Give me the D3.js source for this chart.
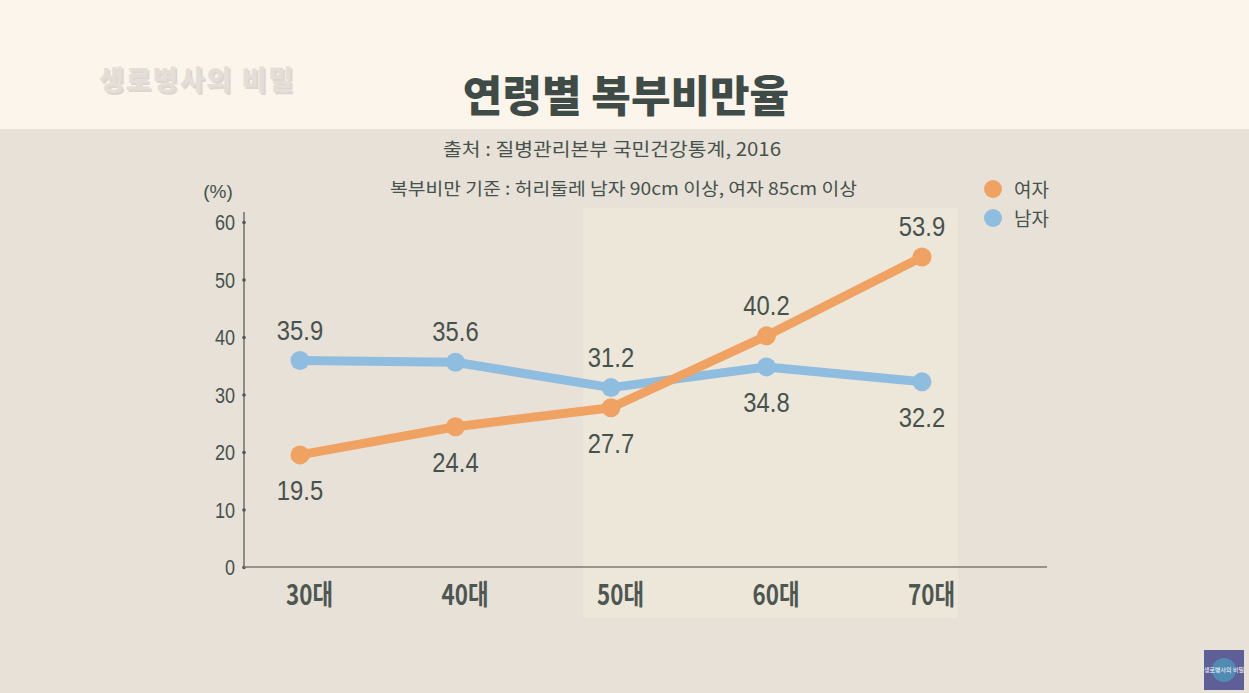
<!DOCTYPE html>
<html><head><meta charset="utf-8">
<script src="https://cdn.jsdelivr.net/npm/d3@7/dist/d3.min.js"></script>
<style>
html,body{margin:0;padding:0;background:#e7e1d8;}
svg{display:block;}
</style></head>
<body>
<svg id="c" width="1249" height="693"></svg>
<script>
const categories = ["30대","40대","50대","60대","70대"];
const women = [19.5, 24.4, 27.7, 40.2, 53.9];
const men = [35.9, 35.6, 31.2, 34.8, 32.2];
const yTicks = [0,10,20,30,40,50,60];
const seriesNames = ["여자","남자"];

const W=1249,H=693;
const svg=d3.select("#c");
const ink="#46524d";
const orange="#f0a262", blue="#8fbde0";
const numFont="'Liberation Sans',Arial,sans-serif";
const krFont="'Noto Sans CJK KR','Noto Sans',sans-serif";

svg.append("rect").attr("width",W).attr("height",H).attr("fill","#e7e1d8");
svg.append("rect").attr("width",W).attr("height",129).attr("fill","#fbf5ec");

// logo top-left
svg.append("text").attr("x",101).attr("y",92).attr("font-family",krFont).attr("font-weight",900)
 .attr("font-size",27).attr("fill","#c9c3bb").attr("opacity",0.6).attr("letter-spacing",2).text("생로병사의 비밀");
svg.append("text").attr("x",99).attr("y",90).attr("font-family",krFont).attr("font-weight",900)
 .attr("font-size",27).attr("fill","#e4ded6").attr("letter-spacing",2).text("생로병사의 비밀");

const x=d3.scalePoint().domain(categories).range([300,922]);
const y=d3.scaleLinear().domain([0,60]).range([567,222]);

// highlight region
svg.append("rect").attr("x",583).attr("y",208).attr("width",375).attr("height",410).attr("fill","#ede7da");

// title
svg.append("text").attr("x",626).attr("y",112).attr("text-anchor","middle").attr("font-family",krFont)
 .attr("font-weight",900).attr("font-size",43).attr("fill","#3f4b47").text("연령별 복부비만율");
svg.append("text").attr("x",443).attr("y",156).attr("font-family",krFont)
 .attr("font-size",18.5).attr("fill",ink).attr("textLength",338).attr("lengthAdjust","spacingAndGlyphs")
 .text("출처 : 질병관리본부 국민건강통계, 2016");
svg.append("text").attr("x",390).attr("y",195).attr("font-family",krFont)
 .attr("font-size",17.5).attr("fill",ink).attr("textLength",467).attr("lengthAdjust","spacingAndGlyphs")
 .text("복부비만 기준 : 허리둘레 남자 90cm 이상, 여자 85cm 이상");

// legend
[orange,blue].forEach((c,i)=>{
  svg.append("circle").attr("cx",993).attr("cy",189+i*29).attr("r",9).attr("fill",c);
  svg.append("text").attr("x",1014).attr("y",197+i*29).attr("font-family",krFont).attr("font-size",19)
   .attr("fill",ink).text(seriesNames[i]);
});

// y axis
const yAxis=d3.axisLeft(y).tickValues(yTicks).tickSize(0).tickPadding(11);
const ga=svg.append("g").attr("transform","translate(244,0)").call(yAxis);
ga.select(".domain").attr("d","M0,212V567").attr("stroke","#6e716a").attr("stroke-width",1.5);
ga.selectAll("text").attr("font-family",numFont).attr("font-size",22).attr("fill",ink).attr("dy","0.35em")
 .attr("transform","scale(0.82,1)");
ga.selectAll(".tick").append("circle").attr("r",1.8).attr("fill","#555");
svg.append("text").attr("x",218).attr("y",198).attr("text-anchor","middle").attr("font-family",numFont)
 .attr("font-size",19).attr("fill",ink).text("(%)");

// x axis
const xAxis=d3.axisBottom(x).tickSize(0).tickPadding(18);
const gx=svg.append("g").attr("transform","translate(0,567)").call(xAxis);
gx.select(".domain").attr("d","M244,0H1047").attr("stroke","#7a7b74").attr("stroke-width",1.5);
gx.selectAll("text").attr("font-family",krFont).attr("font-weight",700)
 .attr("font-size",28).attr("fill","#4d5752").attr("x",7).attr("dy","0.72em")
 .attr("transform","scale(0.8,1)");
gx.selectAll(".tick").attr("transform",d=>`translate(${x(d)+4},0)`);

const line=d3.line().x((d,i)=>x(categories[i])).y(d=>y(d));
function drawSeries(vals,color,labelAbove){
  svg.append("path").datum(vals).attr("d",line).attr("fill","none").attr("stroke",color)
   .attr("stroke-width",9).attr("stroke-linejoin","round");
  svg.selectAll(null).data(vals).enter().append("circle")
   .attr("cx",(d,i)=>x(categories[i])).attr("cy",d=>y(d)).attr("r",9.5).attr("fill",color);
  svg.selectAll(null).data(vals).enter().append("text")
   .attr("transform",(d,i)=>`translate(${x(categories[i])},${y(d)+(labelAbove[i]?-21:45)}) scale(0.85,1)`)
   .attr("text-anchor","middle").attr("font-family",numFont).attr("font-size",28)
   .attr("fill",ink).text(d=>d.toFixed(1));
}
drawSeries(men,blue,[true,true,true,false,false]);
drawSeries(women,orange,[false,false,false,true,true]);

// bottom-right logo
svg.append("rect").attr("x",1204).attr("y",650).attr("width",40).attr("height",40).attr("fill","#5d5f96");
svg.append("circle").attr("cx",1224).attr("cy",670).attr("r",12).attr("fill","#4aa6c6").attr("opacity",0.6);
svg.append("text").attr("x",1224).attr("y",672).attr("text-anchor","middle").attr("font-family",krFont)
 .attr("font-size",6).attr("fill","#fff").text("생로병사의 비밀");
</script>
</body></html>
